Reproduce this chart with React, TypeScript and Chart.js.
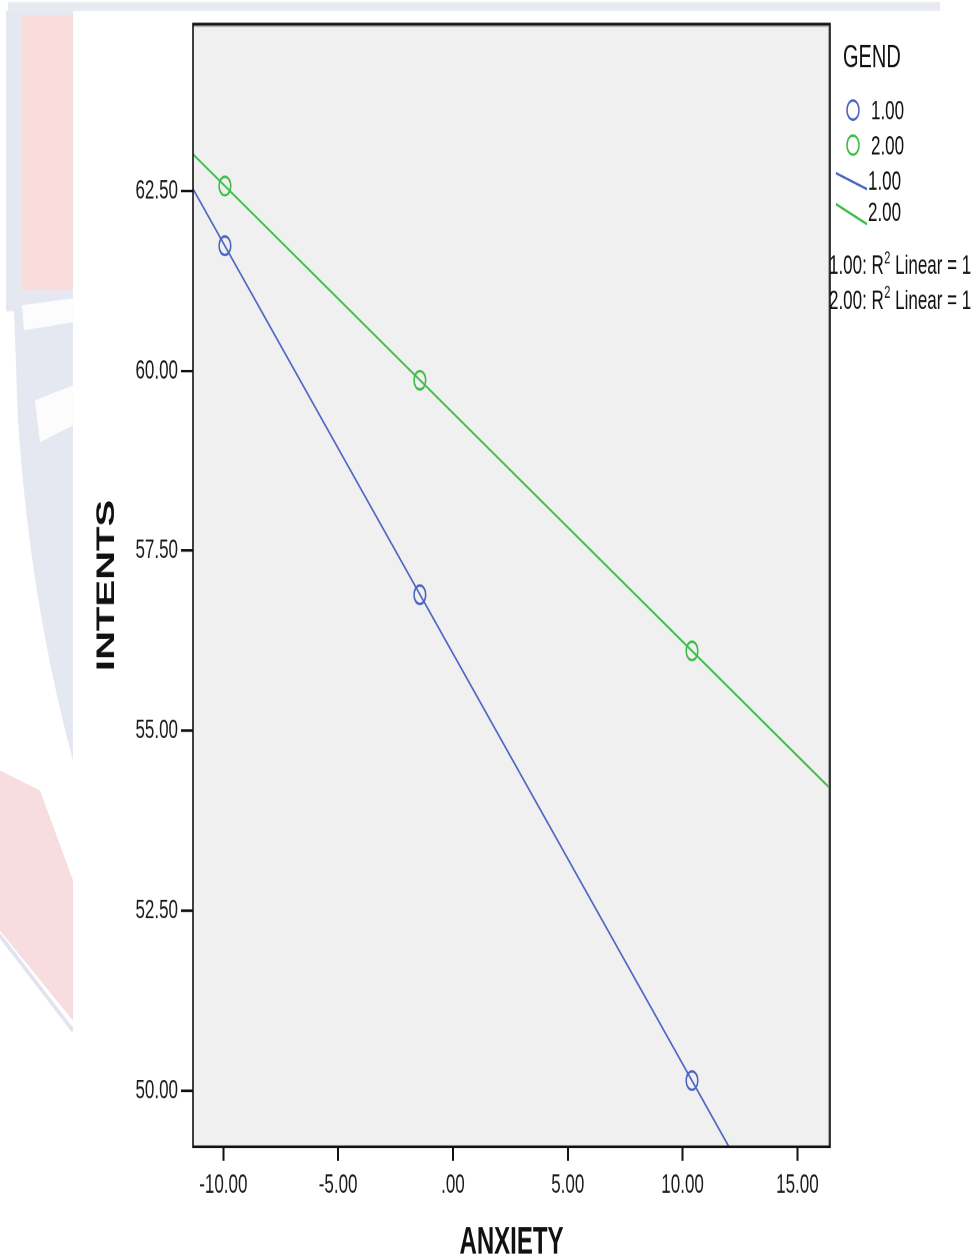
import React, { useEffect, useRef } from 'react';
import { Chart, registerables } from 'chart.js';

Chart.register(...registerables);

// ---- data ----
const GROUP_LABELS = ['1.00', '2.00'];
const ANXIETY_G1 = [-9.93, -1.44, 10.41];
const INTENTS_G1 = [61.74, 56.89, 50.14];
const ANXIETY_G2 = [-9.93, -1.44, 10.41];
const INTENTS_G2 = [62.57, 59.87, 56.11];
const R2_VALUES = ['1', '1'];

const X_TICKS = [-10, -5, 0, 5, 10, 15];
const X_TICK_LABELS = ['-10.00', '-5.00', '.00', '5.00', '10.00', '15.00'];
const Y_TICKS = [50, 52.5, 55, 57.5, 60, 62.5];
const Y_TICK_LABELS = ['50.00', '52.50', '55.00', '57.50', '60.00', '62.50'];
const X_MIN = -11.32;
const X_MAX = 16.42;
const Y_MIN = 49.22;
const Y_MAX = 64.82;

// ---- styling ----
const S = 1.6; // vertical stretch of the picture
const W = 979;
const CH = 1260 / S;
const BLUE = '#4C64BF';
const GREEN = '#3BBD48';
const FONT = "'Liberation Sans', Arial, sans-serif";

function fit(xs: number[], ys: number[]) {
  const n = xs.length;
  const mx = xs.reduce((a, b) => a + b, 0) / n;
  const my = ys.reduce((a, b) => a + b, 0) / n;
  let sxy = 0, sxx = 0;
  for (let i = 0; i < n; i++) {
    sxy += (xs[i] - mx) * (ys[i] - my);
    sxx += (xs[i] - mx) * (xs[i] - mx);
  }
  const b = sxy / sxx;
  const a = my - b * mx;
  return [X_MIN, X_MAX].map((x) => ({ x, y: a + b * x }));
}

const decorPlugin = {
  id: 'decor',
  beforeDraw(chart: any) {
    const { ctx, chartArea } = chart;
    const y = (v: number) => v / S;
    ctx.save();
    ctx.fillStyle = '#ffffff';
    ctx.fillRect(0, 0, chart.width, chart.height);
    // faint watermark fragments outside the white panel
    ctx.fillStyle = '#E8EAF1';
    ctx.fillRect(8, y(2), 932, y(9));
    ctx.fillStyle = '#E5E8F0';
    ctx.fillRect(6, y(11), 67, y(300));
    ctx.beginPath();
    ctx.moveTo(14, y(310));
    ctx.lineTo(73, y(310));
    ctx.lineTo(73, y(760));
    ctx.quadraticCurveTo(30, y(600), 18, y(420));
    ctx.closePath();
    ctx.fill();
    ctx.fillStyle = '#F9DDDD';
    ctx.fillRect(22, y(15), 51, y(275));
    ctx.fillStyle = '#FCFCFD';
    ctx.beginPath();
    ctx.moveTo(22, y(305));
    ctx.lineTo(73, y(298));
    ctx.lineTo(73, y(322));
    ctx.lineTo(24, y(330));
    ctx.closePath();
    ctx.fill();
    ctx.beginPath();
    ctx.moveTo(35, y(400));
    ctx.lineTo(73, y(385));
    ctx.lineTo(73, y(425));
    ctx.lineTo(40, y(442));
    ctx.closePath();
    ctx.fill();
    ctx.fillStyle = '#F7DDE0';
    ctx.beginPath();
    ctx.moveTo(0, y(770));
    ctx.lineTo(40, y(790));
    ctx.lineTo(73, y(880));
    ctx.lineTo(73, y(1020));
    ctx.lineTo(0, y(930));
    ctx.closePath();
    ctx.fill();
    ctx.strokeStyle = '#E1E4EE';
    ctx.lineWidth = 3;
    ctx.beginPath();
    ctx.moveTo(0, y(935));
    ctx.lineTo(73, y(1030));
    ctx.stroke();
    // white panel
    ctx.fillStyle = '#ffffff';
    ctx.fillRect(73, y(11), 867, chart.height);
    // plot background
    ctx.fillStyle = '#F0F0F0';
    ctx.fillRect(chartArea.left, chartArea.top, chartArea.right - chartArea.left, chartArea.bottom - chartArea.top);
    ctx.restore();
  },
  afterDraw(chart: any) {
    const { ctx, chartArea } = chart;
    const y = (v: number) => v / S;
    ctx.save();
    // frame
    ctx.strokeStyle = '#9a9a9a';
    ctx.lineWidth = 1.2;
    ctx.beginPath();
    ctx.moveTo(chartArea.left, chartArea.top + 1.2);
    ctx.lineTo(chartArea.right - 1.2, chartArea.top + 1.2);
    ctx.lineTo(chartArea.right - 1.2, chartArea.bottom);
    ctx.stroke();
    ctx.strokeStyle = '#111';
    ctx.lineWidth = 1.6;
    ctx.strokeRect(chartArea.left, chartArea.top, chartArea.right - chartArea.left, chartArea.bottom - chartArea.top);

    // legend
    ctx.fillStyle = '#111';
    ctx.textBaseline = 'middle';
    ctx.textAlign = 'left';
    ctx.font = `20px ${FONT}`;
    ctx.fillText('GEND', 843, y(58));
    ctx.font = `17px ${FONT}`;
    const colors = [BLUE, GREEN];
    const circleY = [110, 145];
    const lineY = [[173, 189], [204, 224]];
    for (let i = 0; i < 2; i++) {
      ctx.strokeStyle = colors[i];
      ctx.lineWidth = 1.5;
      ctx.beginPath();
      ctx.arc(853, y(circleY[i]), 6, 0, Math.PI * 2);
      ctx.stroke();
      ctx.fillStyle = '#111';
      ctx.fillText(GROUP_LABELS[i], 871, y(circleY[i] + 1.5));
    }
    for (let i = 0; i < 2; i++) {
      ctx.strokeStyle = colors[i];
      ctx.lineWidth = 1.5;
      ctx.beginPath();
      ctx.moveTo(836, y(lineY[i][0]));
      ctx.lineTo(867, y(lineY[i][1]));
      ctx.stroke();
      ctx.fillStyle = '#111';
      ctx.fillText(GROUP_LABELS[i], 868, y(lineY[i][0] + 9));
    }
    const r2Y = [266, 301];
    for (let i = 0; i < 2; i++) {
      let x = 829;
      const yy = y(r2Y[i]);
      ctx.font = `17px ${FONT}`;
      const a = `${GROUP_LABELS[i]}: R`;
      ctx.fillText(a, x, yy);
      x += ctx.measureText(a).width;
      ctx.font = `11px ${FONT}`;
      ctx.fillText('2', x + 0.5, yy - 5);
      x += ctx.measureText('2').width + 0.5;
      ctx.font = `17px ${FONT}`;
      ctx.fillText(` Linear = ${R2_VALUES[i]}`, x, yy);
    }
    ctx.restore();
  },
};

export default function App() {
  const ref = useRef<HTMLCanvasElement | null>(null);
  useEffect(() => {
    if (!ref.current) return;
    const g1 = ANXIETY_G1.map((x, i) => ({ x, y: INTENTS_G1[i] }));
    const g2 = ANXIETY_G2.map((x, i) => ({ x, y: INTENTS_G2[i] }));
    const chart = new Chart(ref.current, {
      type: 'scatter',
      data: {
        datasets: [
          {
            label: GROUP_LABELS[0],
            data: g1,
            pointStyle: 'circle',
            pointRadius: 5.8,
            pointBorderWidth: 1.5,
            borderColor: BLUE,
            backgroundColor: 'rgba(0,0,0,0)',
            showLine: false,
          },
          {
            label: GROUP_LABELS[1],
            data: g2,
            pointStyle: 'circle',
            pointRadius: 5.8,
            pointBorderWidth: 1.5,
            borderColor: GREEN,
            backgroundColor: 'rgba(0,0,0,0)',
            showLine: false,
          },
          {
            type: 'line',
            label: `${GROUP_LABELS[0]} fit`,
            data: fit(ANXIETY_G1, INTENTS_G1),
            borderColor: BLUE,
            borderWidth: 1.4,
            pointRadius: 0,
            fill: false,
          },
          {
            type: 'line',
            label: `${GROUP_LABELS[1]} fit`,
            data: fit(ANXIETY_G2, INTENTS_G2),
            borderColor: GREEN,
            borderWidth: 1.4,
            pointRadius: 0,
            fill: false,
          },
        ] as any,
      },
      options: {
        animation: false,
        responsive: true,
        maintainAspectRatio: false,
        devicePixelRatio: 2,
        layout: { padding: { left: 0, top: 24 / S, right: W - 830, bottom: 0 } },
        plugins: { legend: { display: false }, tooltip: { enabled: false } },
        scales: {
          x: {
            type: 'linear',
            min: X_MIN,
            max: X_MAX,
            afterBuildTicks: (s: any) => {
              s.ticks = X_TICKS.map((v) => ({ value: v }));
            },
            afterFit: (s: any) => {
              s.height = CH - 1146 / S;
            },
            grid: { display: true, drawOnChartArea: false, drawTicks: true, tickLength: 14 / S, color: '#111', lineWidth: 2 },
            border: { display: false },
            ticks: {
              autoSkip: false,
              maxRotation: 0,
              padding: 5,
              color: '#1a1a1a',
              font: { family: FONT, size: 17 },
              callback: (v: any) => {
                const i = X_TICKS.indexOf(Number(v));
                return i >= 0 ? X_TICK_LABELS[i] : '';
              },
            },
            title: {
              display: true,
              text: 'ANXIETY',
              color: '#111',
              font: { family: FONT, size: 24, weight: 'bold', lineHeight: 1 },
              padding: { top: 0, bottom: -1 },
            },
          },
          y: {
            type: 'linear',
            min: Y_MIN,
            max: Y_MAX,
            afterBuildTicks: (s: any) => {
              s.ticks = Y_TICKS.map((v) => ({ value: v }));
            },
            afterFit: (s: any) => {
              s.width = 193;
            },
            grid: { display: true, drawOnChartArea: false, drawTicks: true, tickLength: 12, color: '#111', lineWidth: 1.6 },
            border: { display: false },
            ticks: {
              autoSkip: false,
              padding: 3,
              color: '#1a1a1a',
              font: { family: FONT, size: 17 },
              callback: (v: any) => {
                const i = Y_TICKS.indexOf(Number(v));
                return i >= 0 ? Y_TICK_LABELS[i] : '';
              },
            },
            title: {
              display: true,
              text: 'INTENTS',
              color: '#111',
              font: { family: FONT, size: 25, weight: 'bold', lineHeight: 1.2 },
              padding: { top: 92, bottom: 0 },
            },
          },
        },
      } as any,
      plugins: [decorPlugin],
    });
    return () => chart.destroy();
  }, []);

  return (
    <div style={{ position: 'absolute', left: 0, top: 0, width: W, height: 1260, overflow: 'hidden', background: '#fff' }}>
      <div style={{ width: W, height: CH, transform: `scaleY(${S})`, transformOrigin: '0 0', position: 'relative' }}>
        <canvas ref={ref} />
      </div>
    </div>
  );
}
